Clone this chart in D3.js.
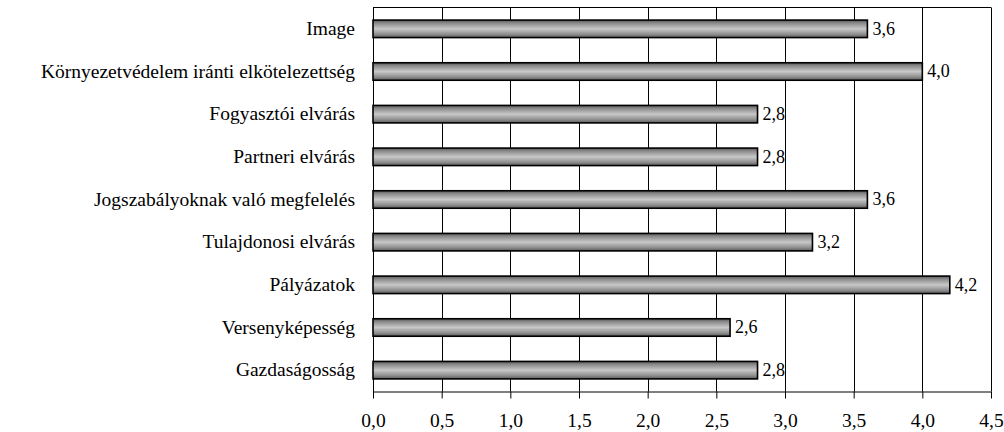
<!DOCTYPE html>
<html>
<head>
<meta charset="utf-8">
<script src="https://cdn.jsdelivr.net/npm/d3@7"></script>
<style>
  svg text { font-family: "Liberation Serif", "Times New Roman", Tinos, serif !important; }
</style>
</head>
<body style="margin:0;background:#fff">
<div id="chart"></div>
<script>
// categories top to bottom, and their average scores
var categories = [
  "Image",
  "Környezetvédelem iránti elkötelezettség",
  "Fogyasztói elvárás",
  "Partneri elvárás",
  "Jogszabályoknak való megfelelés",
  "Tulajdonosi elvárás",
  "Pályázatok",
  "Versenyképesség",
  "Gazdaságosság"
];
var values = [3.6, 4.0, 2.8, 2.8, 3.6, 3.2, 4.2, 2.6, 2.8];
var xTicks = [0, 0.5, 1, 1.5, 2, 2.5, 3, 3.5, 4, 4.5];

var width = 1004, height = 432;
var margin = {top: 7.5, right: 13, bottom: 40.5, left: 373};
var SERIF = 'Liberation Serif, Times New Roman, serif';

var svg = d3.select('#chart').append('svg')
  .attr('width', width)
  .attr('height', height)
  .attr('font-family', SERIF);

var grad = svg.append('defs').append('linearGradient')
  .attr('id', 'barGrad')
  .attr('x1', 0).attr('y1', 0).attr('x2', 0).attr('y2', 1);
[[0, '#5a5a5a'], [0.18, '#8c8c8c'], [0.5, '#c8c8c8'], [0.82, '#8c8c8c'], [1, '#5a5a5a']]
  .forEach(function(s) {
    grad.append('stop').attr('offset', s[0]).attr('stop-color', s[1]);
  });

var x = d3.scaleLinear().domain([0, 4.5]).range([margin.left, width - margin.right]);
var y = d3.scaleBand().domain(categories)
  .range([margin.top, height - margin.bottom])
  .paddingInner(0.59).paddingOuter(0.295);

var fmt = function(v) { return d3.format('.1f')(v).replace('.', ','); };

// vertical grid lines
svg.append('g')
  .selectAll('line')
  .data(xTicks.slice(1))
  .join('line')
    .attr('x1', d => Math.round(x(d)) + 0.5)
    .attr('x2', d => Math.round(x(d)) + 0.5)
    .attr('y1', margin.top)
    .attr('y2', height - margin.bottom)
    .attr('stroke', '#000')
    .attr('stroke-width', 1);

// top border
svg.append('line')
  .attr('x1', margin.left).attr('x2', width - margin.right)
  .attr('y1', margin.top).attr('y2', margin.top)
  .attr('stroke', '#000');

// bottom axis
var xAxis = d3.axisBottom(x)
  .tickValues(xTicks)
  .tickFormat(fmt)
  .tickSize(7)
  .tickPadding(15);
var gx = svg.append('g')
  .attr('transform', 'translate(0,' + (height - margin.bottom) + ')')
  .call(xAxis)
  .attr('font-family', SERIF)
  .attr('font-size', 19.5);
gx.select('.domain').attr('d', 'M' + margin.left + ',0.5H' + (width - margin.right));
gx.selectAll('.tick line').attr('stroke', '#000');
gx.selectAll('text').attr('fill', '#000');

// left axis (no ticks)
var yAxis = d3.axisLeft(y).tickSize(0).tickPadding(18);
var gy = svg.append('g')
  .attr('transform', 'translate(' + margin.left + ',0)')
  .call(yAxis)
  .attr('font-family', SERIF)
  .attr('font-size', 19.5);
gy.select('.domain').attr('stroke', '#000');
gy.selectAll('text').attr('fill', '#000');

// bars
svg.append('g')
  .selectAll('rect')
  .data(values)
  .join('rect')
    .attr('x', x(0))
    .attr('y', (d, i) => y(categories[i]))
    .attr('width', d => x(d) - x(0))
    .attr('height', y.bandwidth())
    .attr('fill', 'url(#barGrad)')
    .attr('stroke', '#000')
    .attr('stroke-width', 1.6);

// value labels
svg.append('g')
  .attr('font-size', 18)
  .selectAll('text')
  .data(values)
  .join('text')
    .attr('x', d => x(d) + 5)
    .attr('y', (d, i) => y(categories[i]) + y.bandwidth() / 2)
    .attr('dy', '0.33em')
    .attr('fill', '#000')
    .text(fmt);
</script>
</body>
</html>
